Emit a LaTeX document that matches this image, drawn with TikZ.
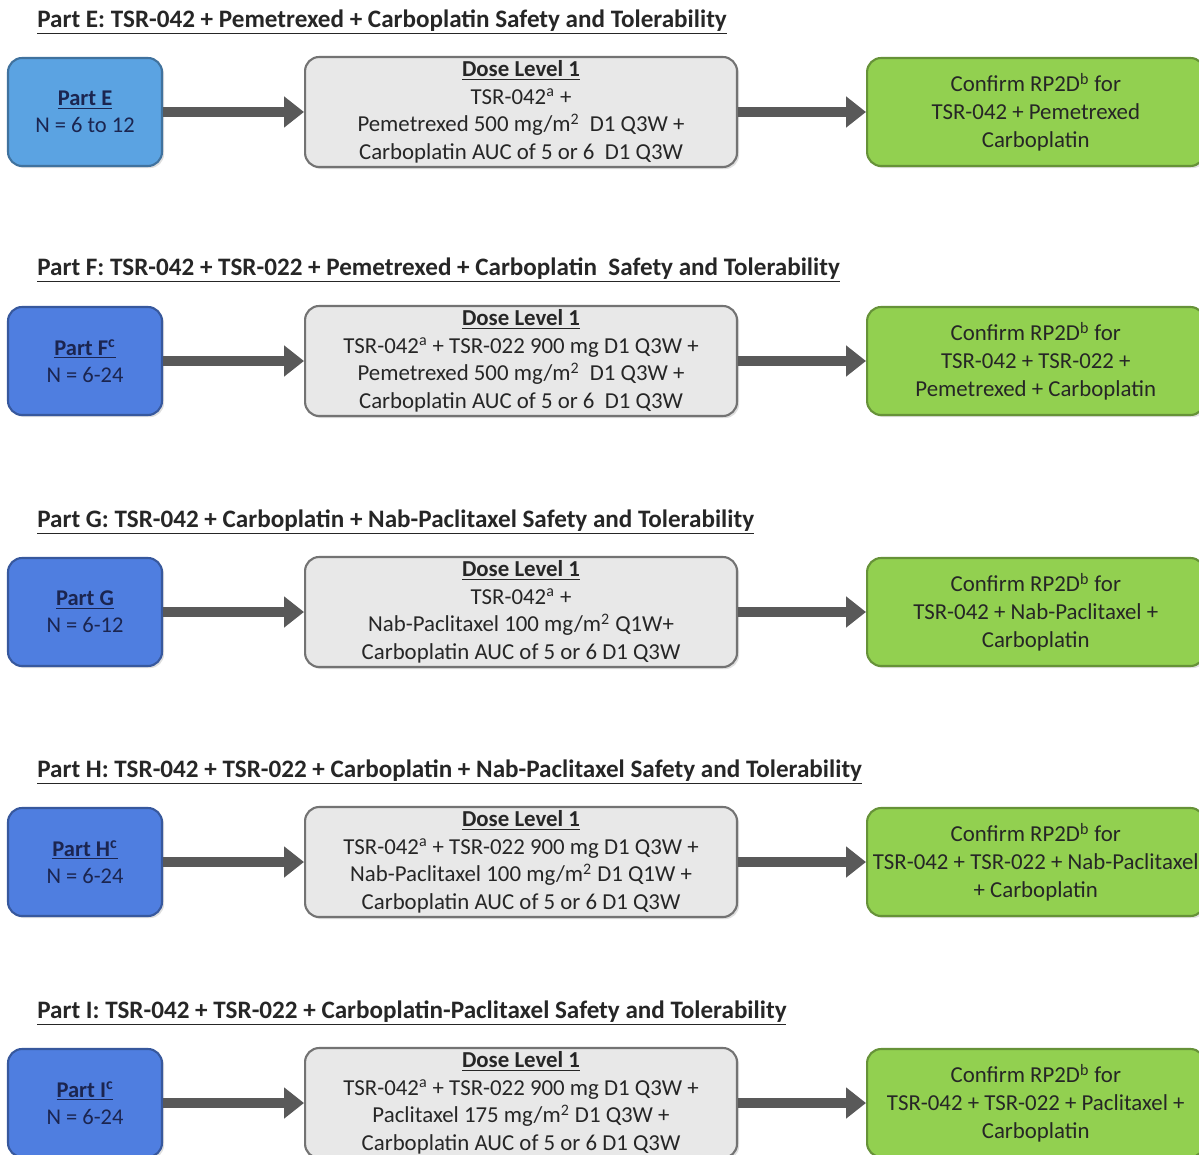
\documentclass[tikz,border=0pt]{standalone}
\usepackage{fontspec}
\setmainfont{Carlito}
\usetikzlibrary{positioning,arrows.meta,shadows}

\definecolor{partlight}{HTML}{5BA3E2}
\definecolor{partdark}{HTML}{4F7EE0}
\definecolor{doseback}{HTML}{E8E8E8}
\definecolor{confirmgreen}{HTML}{92D050}
\definecolor{arrowgray}{HTML}{595959}
\definecolor{textnavy}{HTML}{1B2550}

\tikzset{
    parttitle/.style={anchor=west, font=\fontsize{14.3}{16}\selectfont\bfseries, text=black!85, inner sep=0pt},
    partbox/.style={draw=#1!70!black, fill=#1, line width=1.2pt, rounded corners=8pt,
        minimum width=3.08cm, minimum height=2.16cm, align=center, text=textnavy,
        font=\fontsize{12.8}{15.4}\selectfont, drop shadow={opacity=0.25, shadow xshift=1.2pt, shadow yshift=-1.2pt}},
    dosebox/.style={draw=black!55, fill=doseback, line width=1.2pt, rounded corners=8pt,
        minimum width=8.64cm, minimum height=2.2cm, align=center, text=black!85, inner sep=1pt,
        font=\fontsize{13}{15.7}\selectfont, drop shadow={opacity=0.25, shadow xshift=1.2pt, shadow yshift=-1.2pt}},
    confirmbox/.style={draw=confirmgreen!70!black, fill=confirmgreen, line width=1.2pt, rounded corners=8pt,
        minimum width=6.75cm, minimum height=2.16cm, align=center, text=black!85,
        font=\fontsize{13}{15.7}\selectfont, drop shadow={opacity=0.25, shadow xshift=1.2pt, shadow yshift=-1.2pt}},
    flow/.style={draw=arrowgray, line width=0.2cm, -{Triangle[length=0.4cm, width=0.6cm, fill=arrowgray]}},
}

\begin{document}
\begin{tikzpicture}[x=0.02cm, y=-0.02cm]
    \useasboundingbox (0,0) rectangle (1199,1155);

    % Part E
    \node [parttitle] (titleE) at (37,22) {\underline{Part E: TSR-042 + Pemetrexed + Carboplatin Safety and Tolerability}};
    \node [partbox=partlight] (partE) at (85,112) {\textbf{\underline{Part E}}\\N = 6 to 12};
    \node [dosebox, right=2.82cm of partE] (doseE) {\textbf{\underline{Dose Level 1}}\\TSR-042\textsuperscript{a} +\\Pemetrexed 500 mg/m\textsuperscript{2}\ \ D1 Q3W +\\Carboplatin AUC of 5 or 6\ \ D1 Q3W};
    \node [confirmbox, right=2.56cm of doseE] (rp2dE) {Confirm RP2D\textsuperscript{b} for\\TSR-042 + Pemetrexed\\Carboplatin};
    \draw [flow] (partE) -- (doseE);
    \draw [flow] (doseE) -- (rp2dE);

    % Part F
    \node [parttitle] (titleF) at (37,270) {\underline{Part F: TSR-042 + TSR-022 + Pemetrexed + Carboplatin\ \ Safety and Tolerability}};
    \node [partbox=partdark] (partF) at (85,361) {\textbf{\underline{Part F\textsuperscript{c}}}\\N = 6-24};
    \node [dosebox, right=2.82cm of partF] (doseF) {\textbf{\underline{Dose Level 1}}\\TSR-042\textsuperscript{a} + TSR-022 900 mg D1 Q3W +\\Pemetrexed 500 mg/m\textsuperscript{2}\ \ D1 Q3W +\\Carboplatin AUC of 5 or 6\ \ D1 Q3W};
    \node [confirmbox, right=2.56cm of doseF] (rp2dF) {Confirm RP2D\textsuperscript{b} for\\TSR-042 + TSR-022 +\\Pemetrexed + Carboplatin};
    \draw [flow] (partF) -- (doseF);
    \draw [flow] (doseF) -- (rp2dF);

    % Part G
    \node [parttitle] (titleG) at (37,522) {\underline{Part G: TSR-042 + Carboplatin + Nab-Paclitaxel Safety and Tolerability}};
    \node [partbox=partdark] (partG) at (85,612) {\textbf{\underline{Part G}}\\N = 6-12};
    \node [dosebox, right=2.82cm of partG] (doseG) {\textbf{\underline{Dose Level 1}}\\TSR-042\textsuperscript{a} +\\Nab-Paclitaxel 100 mg/m\textsuperscript{2} Q1W+\\Carboplatin AUC of 5 or 6 D1 Q3W};
    \node [confirmbox, right=2.56cm of doseG] (rp2dG) {Confirm RP2D\textsuperscript{b} for\\TSR-042 + Nab-Paclitaxel +\\Carboplatin};
    \draw [flow] (partG) -- (doseG);
    \draw [flow] (doseG) -- (rp2dG);

    % Part H
    \node [parttitle] (titleH) at (37,772) {\underline{Part H: TSR-042 + TSR-022 + Carboplatin + Nab-Paclitaxel Safety and Tolerability}};
    \node [partbox=partdark] (partH) at (85,862) {\textbf{\underline{Part H\textsuperscript{c}}}\\N = 6-24};
    \node [dosebox, right=2.82cm of partH] (doseH) {\textbf{\underline{Dose Level 1}}\\TSR-042\textsuperscript{a} + TSR-022 900 mg D1 Q3W +\\Nab-Paclitaxel 100 mg/m\textsuperscript{2} D1 Q1W +\\Carboplatin AUC of 5 or 6 D1 Q3W};
    \node [confirmbox, right=2.56cm of doseH] (rp2dH) {Confirm RP2D\textsuperscript{b} for\\TSR-042 + TSR-022 + Nab-Paclitaxel\\+ Carboplatin};
    \draw [flow] (partH) -- (doseH);
    \draw [flow] (doseH) -- (rp2dH);

    % Part I
    \node [parttitle] (titleI) at (37,1013) {\underline{Part I: TSR-042 + TSR-022 + Carboplatin-Paclitaxel Safety and Tolerability}};
    \node [partbox=partdark] (partI) at (85,1103) {\textbf{\underline{Part I\textsuperscript{c}}}\\N = 6-24};
    \node [dosebox, right=2.82cm of partI] (doseI) {\textbf{\underline{Dose Level 1}}\\TSR-042\textsuperscript{a} + TSR-022 900 mg D1 Q3W +\\Paclitaxel 175 mg/m\textsuperscript{2} D1 Q3W +\\Carboplatin AUC of 5 or 6 D1 Q3W};
    \node [confirmbox, right=2.56cm of doseI] (rp2dI) {Confirm RP2D\textsuperscript{b} for\\TSR-042 + TSR-022 + Paclitaxel +\\Carboplatin};
    \draw [flow] (partI) -- (doseI);
    \draw [flow] (doseI) -- (rp2dI);
\end{tikzpicture}
\end{document}
